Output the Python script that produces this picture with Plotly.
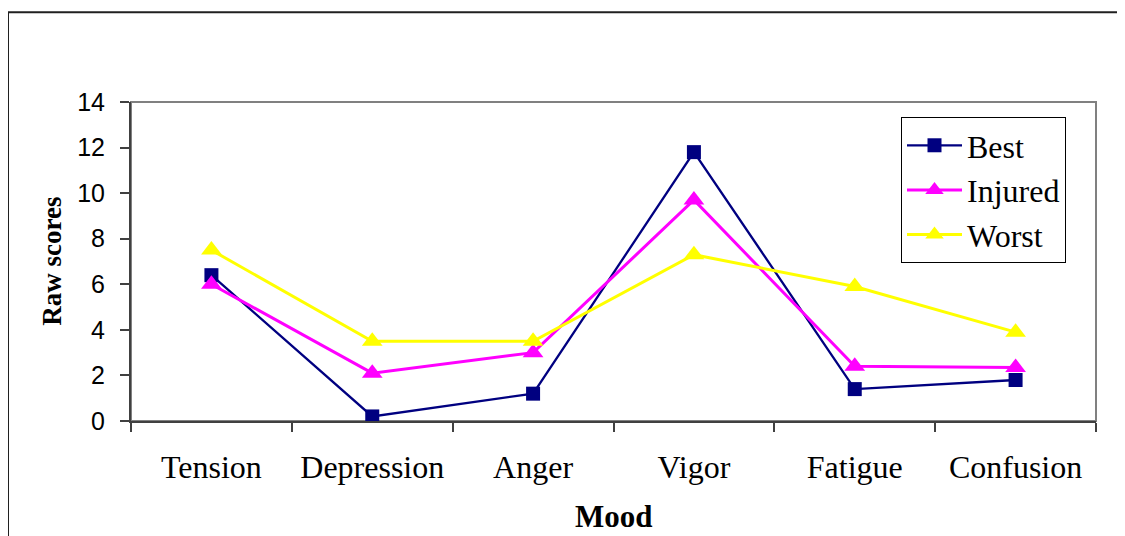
import plotly.graph_objects as go

categories = ["Tension", "Depression", "Anger", "Vigor", "Fatigue", "Confusion"]
best = [6.4, 0.2, 1.2, 11.8, 1.4, 1.8]
injured = [6.0, 2.1, 3.0, 9.7, 2.4, 2.35]
worst = [7.5, 3.5, 3.5, 7.3, 5.9, 3.9]
y_ticks = [0, 2, 4, 6, 8, 10, 12, 14]

OFF = 8  # page body margin
W, H = 1125 - OFF, 536 - OFF
L, R, T, B = 131, 1096, 102, 421.5
pw, ph = R - L, B - T

def px_x(x):
    return (x - L) / pw

def px_y(y):
    return (B - y) / ph

fig = go.Figure()
fig.add_trace(go.Scatter(x=categories, y=best, name="Best", mode="lines+markers",
                         line=dict(color="#000080", width=2.3),
                         marker=dict(symbol="square", size=14, color="#000080")))
fig.add_trace(go.Scatter(x=categories, y=injured, name="Injured", mode="lines+markers",
                         line=dict(color="#FF00FF", width=3),
                         marker=dict(symbol="triangle-up", size=18, color="#FF00FF")))
fig.add_trace(go.Scatter(x=categories, y=worst, name="Worst", mode="lines+markers",
                         line=dict(color="#FFFF00", width=3),
                         marker=dict(symbol="triangle-up", size=18, color="#FFFF00")))

serif = "Liberation Serif, Times New Roman, serif"
sans = "Liberation Sans, Arial, sans-serif"

fig.update_layout(
    width=W, height=H,
    margin=dict(l=L - OFF, r=1125 - R, t=T - OFF, b=536 - B, pad=0),
    paper_bgcolor="white", plot_bgcolor="white",
    showlegend=True,
    legend=dict(x=px_x(901), y=px_y(117), xanchor="left", yanchor="top",
                bordercolor="black", borderwidth=1, bgcolor="white",
                font=dict(family=serif, size=32, color="black"),
                itemwidth=55, tracegroupgap=0),
    xaxis=dict(type="category", showgrid=False, zeroline=False,
               showline=True, linecolor="#404040", linewidth=2,
               ticks="outside", tickson="boundaries", ticklen=9, tickwidth=1.5,
               tickcolor="#404040", ticklabelstandoff=17,
               tickfont=dict(family=serif, size=32, color="black"),
               range=[-0.5, 5.5]),
    yaxis=dict(range=[0, 14], tickvals=y_ticks, showgrid=False, zeroline=False,
               showline=True, linecolor="#404040", linewidth=2,
               ticks="outside", ticklen=9, tickwidth=1.5, tickcolor="#404040",
               ticklabelstandoff=10,
               tickfont=dict(family=sans, size=25, color="black")),
    shapes=[
        dict(type="rect", xref="paper", yref="paper", x0=0, x1=1, y0=0, y1=1,
             line=dict(color="#808080", width=2), layer="below"),
        dict(type="rect", xref="paper", yref="paper",
             x0=px_x(8), x1=px_x(1200), y0=px_y(600), y1=px_y(12),
             line=dict(color="#202020", width=2), layer="below"),
    ],
    annotations=[
        dict(text="<b>Raw scores</b>", xref="paper", yref="paper",
             x=px_x(52), y=px_y(262), xanchor="center", yanchor="middle",
             textangle=-90, showarrow=False,
             font=dict(family=serif, size=27, color="black")),
        dict(text="<b>Mood</b>", xref="paper", yref="paper",
             x=px_x(613.5), y=px_y(517), xanchor="center", yanchor="middle",
             showarrow=False, font=dict(family=serif, size=31, color="black")),
    ],
)

fig.write_html("out.html")
